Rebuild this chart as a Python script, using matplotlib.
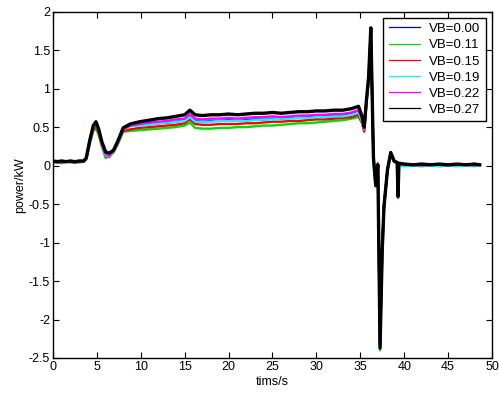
import matplotlib.pyplot as plt

# time axis (s), shared by every trace
t = [0, 0.5, 1, 1.5, 2, 2.5, 3, 3.5,
     3.8, 4.2, 4.6, 4.9, 5.2, 5.6, 6.0, 6.4,
     6.9, 7.4, 8.0, 8.8, 9.9, 11, 12, 13,
     14, 15, 15.6, 16.2, 17, 18, 19, 20,
     21, 22, 23, 24, 25, 26, 27, 28,
     29, 30, 31, 32, 33, 34, 34.8, 35.2,
     35.45, 35.7, 35.95, 36.2, 36.4, 36.5, 36.76, 37.0,
     37.25, 37.5, 37.7, 38.1, 38.47, 38.85, 39.2, 39.3,
     39.4, 40.0, 41, 42, 43, 44, 45, 46, 47, 48, 48.6]

vb_000 = [0.05, 0.06, 0.05, 0.05, 0.06, 0.05, 0.05, 0.06,
          0.09, 0.31, 0.49, 0.53, 0.45, 0.27, 0.14, 0.12,
          0.19, 0.31, 0.48, 0.52, 0.53, 0.54, 0.55, 0.56,
          0.57, 0.59, 0.64, 0.58, 0.57, 0.58, 0.58, 0.59,
          0.58, 0.59, 0.60, 0.60, 0.61, 0.61, 0.62, 0.62,
          0.63, 0.63, 0.64, 0.64, 0.65, 0.67, 0.70, 0.58,
          0.47, 0.83, 1.13, 1.76, 0.65, 0.09, -0.25, 0.01,
          -2.35, -1.12, -0.55, -0.05, 0.16, 0.06, 0.04, -0.39,
          0.02, 0.01, 0.01, 0.02, 0.01, 0.01, 0.02, 0.01, 0.01, 0.02, 0.01]

vb_011 = [0.04, 0.05, 0.03, 0.05, 0.04, 0.05, 0.04, 0.05,
          0.08, 0.28, 0.45, 0.48, 0.40, 0.24, 0.10, 0.12,
          0.17, 0.28, 0.44, 0.45, 0.46, 0.47, 0.48, 0.49,
          0.50, 0.52, 0.56, 0.49, 0.48, 0.48, 0.49, 0.49,
          0.50, 0.50, 0.51, 0.52, 0.52, 0.53, 0.54, 0.55,
          0.55, 0.56, 0.57, 0.58, 0.59, 0.61, 0.63, 0.56,
          0.46, 0.80, 1.10, 1.72, 0.62, 0.08, -0.24, 0.00,
          -2.40, -1.05, -0.50, -0.06, 0.15, 0.05, 0.03, -0.36,
          0.02, 0.00, 0.01, 0.00, 0.01, 0.00, 0.01, 0.00, 0.01, 0.00, 0.01]

vb_015 = [0.05, 0.04, 0.05, 0.06, 0.05, 0.04, 0.05, 0.05,
          0.09, 0.30, 0.47, 0.51, 0.43, 0.26, 0.12, 0.11,
          0.18, 0.29, 0.45, 0.47, 0.49, 0.50, 0.51, 0.52,
          0.53, 0.55, 0.60, 0.54, 0.53, 0.53, 0.54, 0.54,
          0.54, 0.55, 0.55, 0.56, 0.57, 0.57, 0.58, 0.58,
          0.59, 0.60, 0.60, 0.61, 0.62, 0.63, 0.66, 0.55,
          0.44, 0.82, 1.12, 1.74, 0.64, 0.12, -0.22, 0.03,
          -2.33, -1.08, -0.52, -0.04, 0.16, 0.05, 0.04, -0.38,
          0.02, 0.01, 0.00, 0.01, 0.02, 0.01, 0.00, 0.01, 0.02, 0.01, 0.01]

vb_019 = [0.05, 0.04, 0.06, 0.05, 0.04, 0.06, 0.05, 0.05,
          0.09, 0.31, 0.50, 0.56, 0.46, 0.27, 0.13, 0.12,
          0.18, 0.30, 0.47, 0.51, 0.52, 0.53, 0.55, 0.56,
          0.57, 0.58, 0.63, 0.57, 0.57, 0.57, 0.58, 0.58,
          0.58, 0.58, 0.59, 0.60, 0.60, 0.61, 0.61, 0.62,
          0.62, 0.63, 0.63, 0.64, 0.64, 0.66, 0.69, 0.57,
          0.47, 0.82, 1.12, 1.75, 0.64, 0.09, -0.24, 0.01,
          -2.34, -1.09, -0.52, -0.05, 0.16, 0.05, 0.03, -0.38,
          0.01, -0.01, 0.00, -0.01, 0.00, -0.01, 0.00, -0.01, 0.00, -0.01, 0.00]

vb_022 = [0.05, 0.05, 0.04, 0.05, 0.05, 0.04, 0.05, 0.05,
          0.09, 0.32, 0.50, 0.55, 0.46, 0.28, 0.15, 0.13,
          0.19, 0.31, 0.47, 0.52, 0.54, 0.56, 0.57, 0.58,
          0.60, 0.61, 0.67, 0.61, 0.60, 0.61, 0.61, 0.62,
          0.61, 0.62, 0.63, 0.63, 0.64, 0.63, 0.64, 0.65,
          0.65, 0.66, 0.66, 0.67, 0.67, 0.69, 0.72, 0.60,
          0.48, 0.84, 1.14, 1.77, 0.65, 0.11, -0.27, 0.02,
          -2.30, -1.08, -0.54, -0.05, 0.17, 0.06, 0.04, -0.42,
          0.02, 0.01, 0.01, 0.00, 0.01, 0.01, 0.00, 0.01, 0.01, 0.00, 0.01]

vb_027 = [0.06, 0.05, 0.06, 0.05, 0.06, 0.05, 0.06, 0.06,
          0.10, 0.33, 0.52, 0.57, 0.48, 0.30, 0.18, 0.16,
          0.20, 0.32, 0.49, 0.54, 0.57, 0.59, 0.61, 0.62,
          0.64, 0.66, 0.72, 0.66, 0.65, 0.66, 0.66, 0.67,
          0.66, 0.67, 0.68, 0.68, 0.69, 0.68, 0.69, 0.70,
          0.70, 0.71, 0.71, 0.72, 0.72, 0.74, 0.77, 0.64,
          0.50, 0.85, 1.15, 1.79, 0.66, 0.10, -0.26, 0.01,
          -2.37, -1.10, -0.53, -0.05, 0.17, 0.06, 0.04, -0.40,
          0.03, 0.02, 0.01, 0.02, 0.01, 0.02, 0.01, 0.02, 0.01, 0.02, 0.01]

labels = ['VB=0.00', 'VB=0.11', 'VB=0.15', 'VB=0.19', 'VB=0.22', 'VB=0.27']
series = [vb_000, vb_011, vb_015, vb_019, vb_022, vb_027]
colors = ['#0000ff', '#00dd00', '#ff0000', '#00ffff', '#ff00ff', '#000000']

plt.rcParams['font.family'] = ['Liberation Sans', 'DejaVu Sans']
plt.rcParams['font.size'] = 9

fig = plt.figure(figsize=(4.99, 3.94), dpi=100)
ax = fig.add_axes([0.106, 0.0914, 0.880, 0.879])

for vals, c, lab in zip(series, colors, labels):
    lw = 2.4 if c == '#000000' else 1.7
    ax.plot(t, vals, color=c, lw=lw, label=lab)

ax.set_xlim(0, 50)
ax.set_ylim(-2.5, 2)
ax.set_xticks(range(0, 51, 5))
ax.set_yticks([-2.5, -2, -1.5, -1, -0.5, 0, 0.5, 1, 1.5, 2])
ax.set_yticklabels(['-2.5', '-2', '-1.5', '-1', '-0.5', '0', '0.5', '1', '1.5', '2'])
ax.tick_params(direction='in', top=True, right=True, length=4, width=0.8, pad=2)
for sp in ax.spines.values():
    sp.set_linewidth(1.0)

ax.set_xlabel('tims/s', labelpad=2)
ax.set_ylabel('power/kW', labelpad=2)

leg = ax.legend(loc='upper right', fancybox=False, framealpha=1, edgecolor='black',
                fontsize=9.5, borderaxespad=0.45, handlelength=2.4, handletextpad=0.7,
                labelspacing=0.3, borderpad=0.4)
leg.get_frame().set_linewidth(1.0)
for h in leg.get_lines():
    h.set_linewidth(0.9)

fig.savefig('out.png', dpi=100)
